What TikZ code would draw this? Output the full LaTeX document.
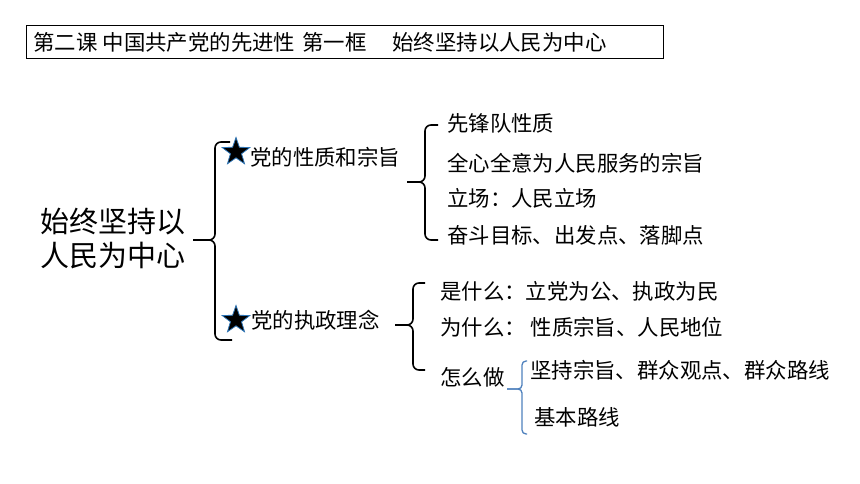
\documentclass[tikz,border=0pt]{standalone}
\usepackage{fontspec}
\setmainfont{Noto Sans CJK SC}
\usetikzlibrary{shapes.geometric, positioning}
\definecolor{braceblue}{RGB}{79,129,189}
\definecolor{starblue}{RGB}{46,117,182}
\tikzset{
  every node/.style={inner sep=0pt, anchor=west},
  item/.style={font=\fontsize{21.4pt}{25pt}\selectfont},
  brace/.style={line width=1.6pt, rounded corners=6pt},
  pstar/.style={star, star points=5, star point ratio=2.5, minimum size=29pt,
    fill=black, draw=starblue, line width=0.8pt, anchor=center},
}

\begin{document}
\begin{tikzpicture}[x=1pt, y=-1pt]
		\useasboundingbox (0,0) rectangle (860,484);

		% title
		\node[draw, line width=1pt, minimum height=33pt, text width=623pt, inner xsep=7pt,
		  align=left, item] (title) at (26,42)
		  {第二课\hspace{5pt}中国共产党的先进性\hspace{7pt}第一框\hspace{26pt}始终坚持以人民为中心};

		% root
		\node[font=\fontsize{29pt}{34pt}\selectfont, align=left] (main) at (40,239)
		  {始终坚持以\\人民为中心};

		% level 1
		\node[pstar] (st1) at (236,152) {};
		\node[item] (nat) at (250,157) {党的性质和宗旨};
		\node[pstar] (st2) at (236,320) {};
		\node[item] (idea) at (251,320) {党的执政理念};

		% level 2
		\node[item] (n1) at (447,123) {先锋队性质};
		\node[item] (n2) at (447,163) {全心全意为人民服务的宗旨};
		\node[item] (n3) at (447,198) {立场：人民立场};
		\node[item] (n4) at (447,235) {奋斗目标、出发点、落脚点};

		\node[item] (i1) at (440,291) {是什么：立党为公、执政为民};
		\node[item] (i2) at (440,327) {为什么：\hspace{5pt}性质宗旨、人民地位};
		\node[item] (i3) at (440,377) {怎么做};

		% level 3
		\node[item] (h1) at (530,370) {坚持宗旨、群众观点、群众路线};
		\node[item] (h2) at (534,417) {基本路线};

		% braces
		\coordinate (b1) at (193,240);
		\coordinate (b2) at (407,182);
		\coordinate (b3) at (395,325);
		\coordinate (b4) at (507,389);
		\draw[brace] (230,142) -| (215,240) -- (b1);
		\draw[brace] (232,340) -| (215,240) -- (b1);
		\draw[brace] (438,125) -| (425,182) -- (b2);
		\draw[brace] (438,240) -| (425,182) -- (b2);
		\draw[brace] (425,283) -| (413,325) -- (b3);
		\draw[brace] (425,370) -| (413,325) -- (b3);
		\draw[brace, draw=braceblue, line width=1.3pt, rounded corners=4pt]
		  (527,361) -| (522,389) -- (b4);
		\draw[brace, draw=braceblue, line width=1.3pt, rounded corners=4pt]
		  (527,434) -| (522,389) -- (b4);

	\end{tikzpicture}
\end{document}
